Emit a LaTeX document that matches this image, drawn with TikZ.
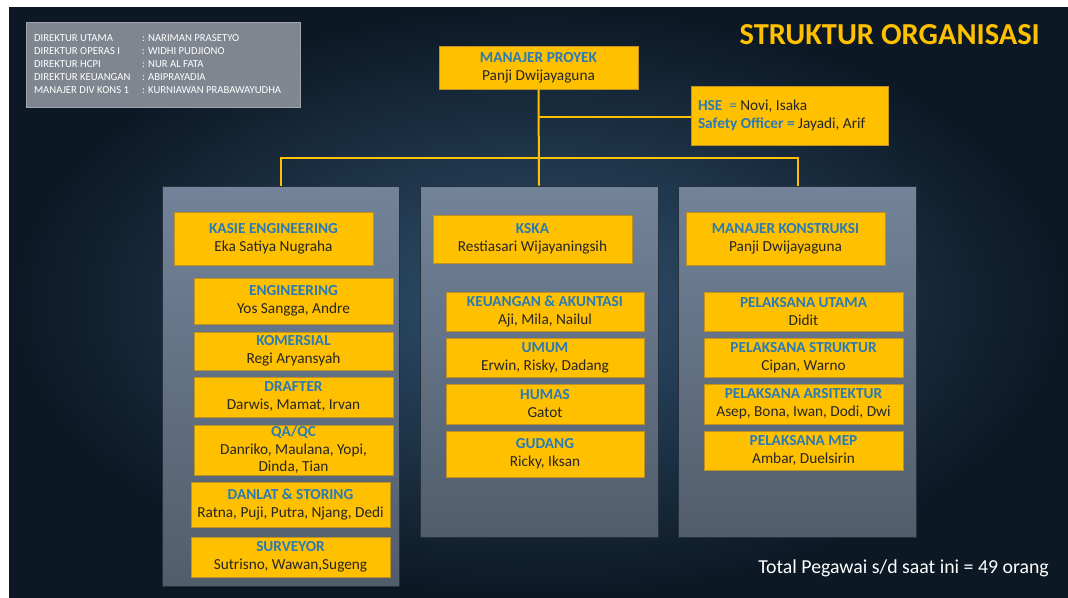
\documentclass[tikz,border=0pt]{standalone}
\usepackage{fontspec}
\setmainfont{Carlito}
\usetikzlibrary{positioning}
\definecolor{ycol}{HTML}{FFC000}
\definecolor{yborder}{HTML}{C09020}
\definecolor{hblue}{HTML}{2A7AB5}
\definecolor{txtcol}{HTML}{262626}
\definecolor{bgin}{HTML}{30516F}
\definecolor{bgout}{HTML}{0C1824}
\definecolor{pantop}{HTML}{72839A}
\definecolor{panbot}{HTML}{515D6B}
\definecolor{panedge}{HTML}{27313D}
\definecolor{infofill}{HTML}{8A9099}
\newcommand\orghd[1]{\textcolor{hblue}{\bfseries #1}}
\tikzset{
  ybox/.style={fill=ycol, draw=yborder, line width=0.5pt, align=center, inner sep=0pt,
    font=\fontsize{15.3}{18}\selectfont, text=txtcol},
  panel/.style={top color=pantop, bottom color=panbot, draw=panedge, line width=0.8pt, inner sep=0pt},
  conn/.style={draw=ycol, line width=2pt},
}
\begin{document}
\begin{tikzpicture}[x=1pt,y=-1pt]
\useasboundingbox (0,0) rectangle (1068,597);
\fill[white] (0,0) rectangle (1068,597);
\fill[bgout] (9,7) rectangle (1068,597);
\shade[inner color=bgin, outer color=bgout] (9,7) rectangle (1068,597);

% info box
\node[fill=infofill, fill opacity=0.92, text opacity=1, draw=infofill!80!white, minimum height=85pt, text width=258pt, inner xsep=8pt, inner ysep=0pt, align=flush left, text=white, font=\fontsize{10.7}{13}\selectfont, anchor=center] (info) at (163,64.5)
{\makebox[108pt][l]{DIREKTUR UTAMA}: NARIMAN PRASETYO\\
 \makebox[108pt][l]{DIREKTUR OPERAS I}: WIDHI PUDJIONO\\
 \makebox[108pt][l]{DIREKTUR HCPI}: NUR AL FATA\\
 \makebox[108pt][l]{DIREKTUR KEUANGAN}: ABIPRAYADIA\\
 \makebox[108pt][l]{MANAJER DIV KONS 1}: KURNIAWAN PRABAWAYUDHA};

% title
\node[anchor=east, text=ycol, font=\fontsize{30.5}{34}\selectfont\bfseries, inner sep=0pt] (title) at (1040,35) {STRUKTUR ORGANISASI};

% panels
\node[panel, minimum width=237pt, minimum height=400pt] (pL) at (280.5,386.5) {};
\node[panel, minimum width=238pt, minimum height=351pt] (pM) at (539,361.5) {};
\node[panel, minimum width=238pt, minimum height=351pt] (pR) at (797.5,361.5) {};

% top boxes
\node[ybox, minimum width=199pt, minimum height=43pt] (mp) at (538.5,67.5) {\orghd{MANAJER PROYEK}\\Panji Dwijayaguna};
\node[ybox, minimum height=59pt, align=flush left, text width=183pt, inner xsep=7pt] (hse) at (789.5,115.5)
{\orghd{HSE} \ \textcolor{hblue}{=} Novi, Isaka\\\orghd{Safety Officer =} Jayadi, Arif};

% connectors
\coordinate (bus) at (538.5,158);
\coordinate (hsej) at (538.5,117);
\draw[conn] (mp.south) -- (pM.north);
\draw[conn] (hsej) -- (hsej -| hse.west);
\draw[conn] (pL.north) |- (bus) -| (pR.north);

% left column
\node[ybox, minimum width=199pt, minimum height=53pt] (kasie) at (273.5,238.5) {\orghd{KASIE ENGINEERING}\\Eka Satiya Nugraha};
\node[ybox, minimum width=199pt, minimum height=46pt] (eng) at (293.5,301) {\orghd{ENGINEERING}\\Yos Sangga, Andre};
\node[ybox, minimum width=199pt, minimum height=38pt] (kom) at (293.5,351) {\orghd{KOMERSIAL}\\Regi Aryansyah};
\node[ybox, minimum width=199pt, minimum height=40pt] (draf) at (293.5,397) {\orghd{DRAFTER}\\Darwis, Mamat, Irvan};
\node[ybox, minimum width=199pt, minimum height=50pt, font=\fontsize{15.3}{17.5}\selectfont] (qaqc) at (293.5,450) {\orghd{QA/QC}\\Danriko, Maulana, Yopi,\\Dinda, Tian};
\node[ybox, minimum width=199pt, minimum height=45pt] (danlat) at (290.5,504.5) {\orghd{DANLAT \& STORING}\\Ratna, Puji, Putra, Njang, Dedi};
\node[ybox, minimum width=199pt, minimum height=40pt] (surv) at (290.5,557) {\orghd{SURVEYOR}\\Sutrisno, Wawan,Sugeng};

% middle column
\node[ybox, minimum width=199pt, minimum height=48pt] (kska) at (532.5,239) {\orghd{KSKA}\\Restiasari Wijayaningsih};
\node[ybox, minimum width=198pt, minimum height=39pt] (keu) at (545,311.5) {\orghd{KEUANGAN \& AKUNTASI}\\Aji, Mila, Nailul};
\node[ybox, minimum width=198pt, minimum height=39pt] (umum) at (545,357.5) {\orghd{UMUM}\\Erwin, Risky, Dadang};
\node[ybox, minimum width=198pt, minimum height=40pt] (humas) at (545,404) {\orghd{HUMAS}\\Gatot};
\node[ybox, minimum width=198pt, minimum height=46pt] (gudang) at (545,454) {\orghd{GUDANG}\\Ricky, Iksan};

% right column
\node[ybox, minimum width=199pt, minimum height=53pt] (mk) at (785.5,238.5) {\orghd{MANAJER KONSTRUKSI}\\Panji Dwijayaguna};
\node[ybox, minimum width=199pt, minimum height=39pt] (pu) at (803.5,311.5) {\orghd{PELAKSANA UTAMA}\\Didit};
\node[ybox, minimum width=199pt, minimum height=39pt] (ps) at (803.5,357.5) {\orghd{PELAKSANA STRUKTUR}\\Cipan, Warno};
\node[ybox, minimum width=199pt, minimum height=40pt] (pa) at (803.5,404) {\orghd{PELAKSANA ARSITEKTUR}\\Asep, Bona, Iwan, Dodi, Dwi};
\node[ybox, minimum width=199pt, minimum height=39pt] (pmep) at (803.5,450.5) {\orghd{PELAKSANA MEP}\\Ambar, Duelsirin};

% total
\node[anchor=east, text=white, font=\fontsize{19.8}{22}\selectfont, inner sep=0pt] (total) at (1049,568) {Total Pegawai s/d saat ini = 49 orang};
\end{tikzpicture}
\end{document}
